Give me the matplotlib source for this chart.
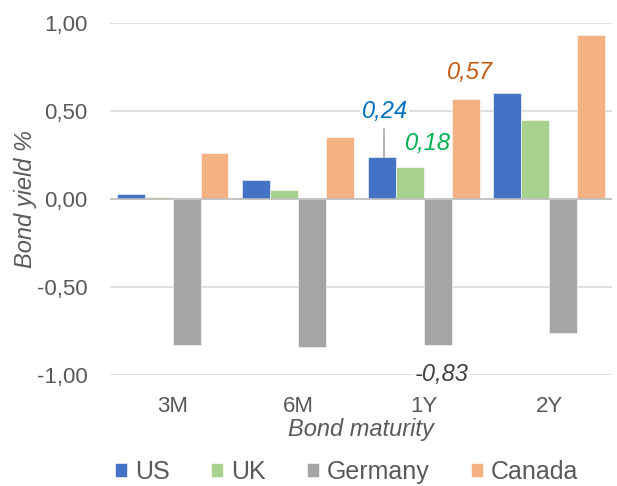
import matplotlib
matplotlib.use("Agg")
import matplotlib.pyplot as plt
import numpy as np

plt.rcParams['font.family'] = ['Liberation Sans', 'DejaVu Sans']

maturities = ['3M', '6M', '1Y', '2Y']
countries = ['US', 'UK', 'Germany', 'Canada']
colors = ['#4472C4', '#A9D18E', '#A5A5A5', '#F4B183']
us = [0.03, 0.11, 0.24, 0.60]
uk = [0.01, 0.05, 0.18, 0.45]
germany = [-0.83, -0.84, -0.83, -0.76]
canada = [0.26, 0.35, 0.57, 0.93]
series = [us, uk, germany, canada]

fig = plt.figure(figsize=(6.17, 4.86), dpi=100)
ax = fig.add_axes([0.178, 0.228, 0.814, 0.725])

x = np.arange(len(maturities))
w = 0.2225
for i, (name, vals, c) in enumerate(zip(countries, series, colors)):
    ax.bar(x + (i - 1.5) * w, vals, w, color=c, label=name,
           edgecolor='white', linewidth=0.4, zorder=3)

ax.set_xlim(-0.5, 3.5)
ax.set_ylim(-1.0, 1.0)
ax.set_yticks([-1.0, -0.5, 0.0, 0.5, 1.0])
ax.set_yticklabels(['-1,00', '-0,50', '0,00', '0,50', '1,00'])
ax.set_xticks(x)
ax.set_xticklabels(maturities)
ax.tick_params(length=0, labelsize=16, colors='#595959')
ax.tick_params(axis='x', pad=15)
ax.tick_params(axis='y', pad=16)
for s in ax.spines.values():
    s.set_visible(False)
ax.grid(axis='y', color='#D9D9D9', linewidth=1.2, zorder=0)
ax.axhline(0, color='#BFBFBF', linewidth=1.2, zorder=4)

ax.set_ylabel('Bond yield %', fontsize=17, style='italic', color='#595959', labelpad=0)
ax.set_xlabel('Bond maturity', fontsize=17, style='italic', color='#595959', labelpad=1)

# data labels
ax.text(1.69, 0.498, '0,24', color='#0070C0', fontsize=17, style='italic',
        ha='center', va='center', zorder=6,
        bbox=dict(facecolor='white', edgecolor='none', pad=1))
ax.plot([1.68, 1.68], [0.24, 0.395], color='#A6A6A6', lw=1.2, zorder=5)
ax.text(2.03, 0.315, '0,18', color='#00B050', fontsize=17, style='italic',
        ha='center', va='center', zorder=6)
ax.text(2.37, 0.72, '0,57', color='#C55A11', fontsize=17, style='italic',
        ha='center', va='center', zorder=6)
ax.text(2.145, -0.995, '-0,83', color='#404040', fontsize=17, style='italic',
        ha='center', va='center', zorder=6,
        bbox=dict(facecolor='white', edgecolor='none', pad=1))

fig.legend(loc='center', bbox_to_anchor=(0.5616, 0.029), ncol=4, frameon=False,
           fontsize=18, handlelength=0.5, handleheight=0.5, handletextpad=0.3,
           columnspacing=1.65, labelcolor='#595959', borderpad=0)

fig.savefig('out.png', dpi=100)
